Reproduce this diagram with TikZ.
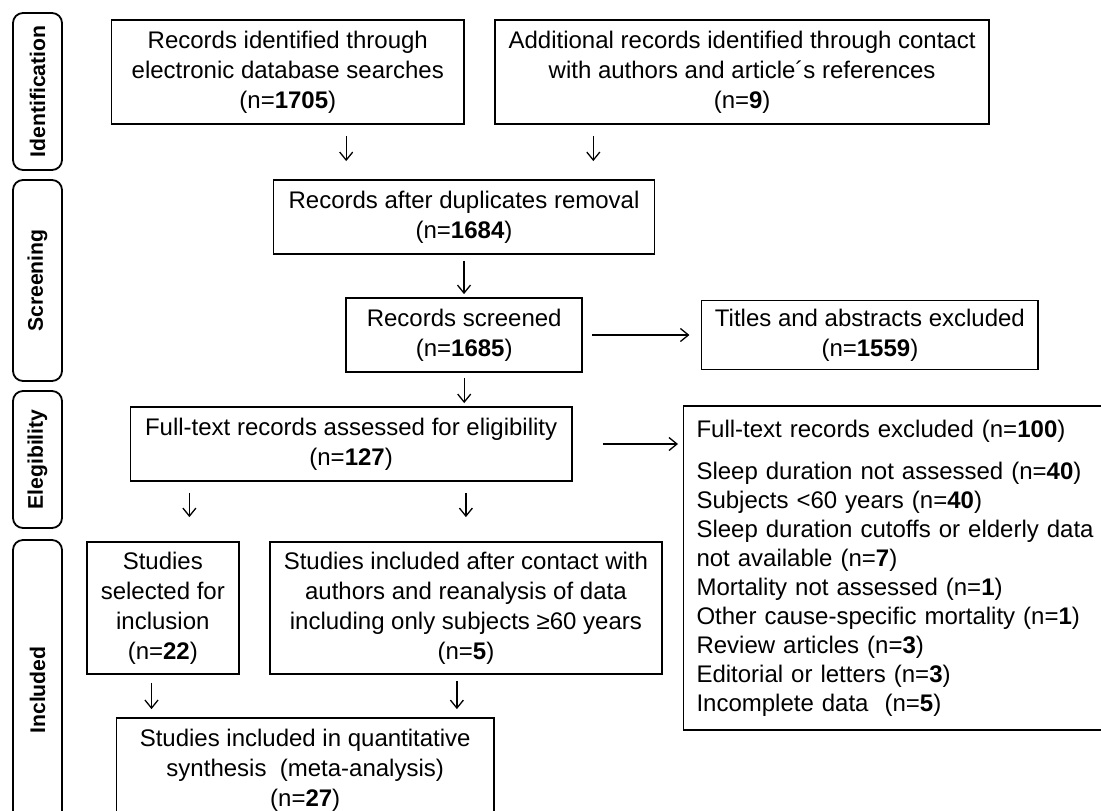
\documentclass[tikz,border=0pt]{standalone}
\usepackage{fontspec}
\setmainfont{Liberation Sans}
\usetikzlibrary{positioning, arrows.meta}
\tikzstyle{stage} =[draw, line width=0.9pt, align=center, inner sep=0pt, font=\fontsize{12}{15}\selectfont]
\tikzstyle{phase} =[draw, line width=0.9pt, rounded corners=5pt, rotate=90, minimum height=24.5pt, inner sep=0pt, font=\bfseries\fontsize{10.6}{12}\selectfont]
\tikzstyle{flow} =[-{Straight Barb[length=4pt, width=6.5pt]}, line width=0.65pt]

\begin{document}
\begin{tikzpicture}[x=1pt, y=1pt]
\useasboundingbox (0,0) rectangle (550.5,-405);
\clip (0,0) rectangle (550.5,-405);

%phases
\node (identTitle) [phase, minimum width=78.5pt] at (18.75,-45.75) {Identification};
\node (screenTitle) [phase, minimum width=100.5pt] at (18.75,-140.25) {Screening};
\node (eligTitle) [phase, minimum width=68.5pt] at (18.75,-229.75) {Elegibility};
\node (inclTitle) [phase, minimum width=150pt] at (18.75,-345) {Included};

\node (recordsDb) [stage, minimum width=176.25pt, minimum height=52pt] at (143.9,-36) {Records identified through\\electronic database searches\\(n=\textbf{1705})};
\node (recordsExtra) [stage, minimum width=246.75pt, minimum height=52pt, right=14.75pt of recordsDb] {Additional records identified through contact\\with authors and article´s references\\(n=\textbf{9})};

\node (recordsDup) [stage, minimum width=190.45pt, minimum height=37pt] at (232,-108.5) {Records after duplicates removal\\(n=\textbf{1684})};

\node (recordsScreened) [stage, minimum width=118.05pt, minimum height=37pt] at (232.1,-167.5) {Records screened\\(n=\textbf{1685})};
\node (titlesExcl) [stage, minimum width=168.35pt, minimum height=34.5pt, right=58.75pt of recordsScreened] {Titles and abstracts excluded\\(n=\textbf{1559})};

\node (fullText) [stage, minimum width=220.6pt, minimum height=37pt] at (175.55,-222) {Full-text records assessed for eligibility\\(n=\textbf{127})};
\node (fullTextExcl) [draw, line width=0.9pt, anchor=north west, align=left, inner xsep=6.5pt, inner ysep=0pt, text width=208pt, minimum height=162pt, font=\fontsize{12}{14.5}\selectfont] at (341.3,-202.5)
	{Full-text records excluded (n=\textbf{100})\\[6.5pt]
	Sleep duration not assessed (n=\textbf{40})\\
	Subjects <60 years (n=\textbf{40})\\
	Sleep duration cutoffs or elderly data\\
	not available (n=\textbf{7})\\
	Mortality not assessed (n=\textbf{1})\\
	Other cause-specific mortality (n=\textbf{1})\\
	Review articles (n=\textbf{3})\\
	Editorial or letters (n=\textbf{3})\\
	Incomplete data\ \ (n=\textbf{5})};

\node (studiesSel) [stage, minimum width=76.15pt, minimum height=66pt] at (81.4,-304) {Studies\\selected for\\inclusion\\(n=\textbf{22})};
\node (studiesReanalysis) [stage, minimum width=195.75pt, minimum height=66pt, right=14.7pt of studiesSel] {Studies included after contact with\\authors and reanalysis of data\\including only subjects ≥60 years\\(n=\textbf{5})};

\node (studiesQuant) [stage, minimum width=188.7pt, minimum height=52pt] at (152.6,-385) {Studies included in quantitative\\synthesis\ \ (meta-analysis)\\(n=\textbf{27})};

%arrows
\draw[flow, shorten <=5.5pt, shorten >=9pt]
	([xshift=29.2pt]recordsDb.south) -- ([xshift=29.2pt]recordsDb.south |- recordsDup.north);
\draw[flow, shorten <=5.5pt, shorten >=9pt]
	([xshift=-74.4pt]recordsExtra.south) -- ([xshift=-74.4pt]recordsExtra.south |- recordsDup.north);
\draw[flow, shorten <=3pt, shorten >=1.5pt]
	(recordsDup.south) -- (recordsDup.south |- recordsScreened.north);
\draw[flow, shorten <=2.5pt, shorten >=1.5pt]
	(recordsScreened.south) -- (recordsScreened.south |- fullText.north);
\draw[flow, shorten <=4.5pt, shorten >=5.6pt]
	(recordsScreened.east) -- (recordsScreened.east -| titlesExcl.west);
\draw[flow, shorten <=15pt, shorten >=2.3pt]
	(fullText.east) -- (fullText.east -| fullTextExcl.west);
\draw[flow, shorten <=5.5pt, shorten >=12pt]
	([xshift=13.3pt]studiesSel.north |- fullText.south) -- ([xshift=13.3pt]studiesSel.north);
\draw[flow, shorten <=5.5pt, shorten >=12pt]
	(studiesReanalysis.north |- fullText.south) -- (studiesReanalysis.north);
\draw[flow, shorten <=4pt, shorten >=4pt]
	([xshift=-5.65pt]studiesSel.south) -- ([xshift=-5.65pt]studiesSel.south |- studiesQuant.north);
\draw[flow, shorten <=3pt, shorten >=4pt]
	([xshift=-4.5pt]studiesReanalysis.south) -- ([xshift=-4.5pt]studiesReanalysis.south |- studiesQuant.north);
\end{tikzpicture}
\end{document}
